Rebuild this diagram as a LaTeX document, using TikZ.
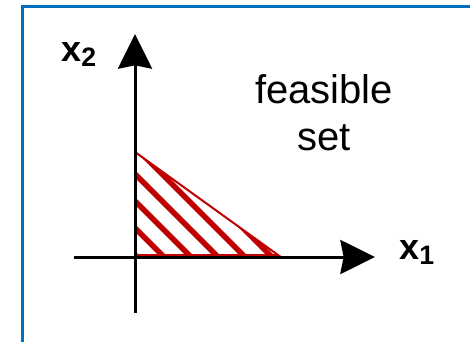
\documentclass[tikz,border=0pt]{standalone}
\usepackage{fontspec}
\setmainfont{Liberation Sans}
\usetikzlibrary{arrows.meta}
\definecolor{frameblue}{HTML}{0070C0}
\definecolor{setred}{HTML}{C00000}

\begin{document}
\begin{tikzpicture}[x=0.75pt, y=-0.75pt,
  axis/.style={line width=2.25pt, -{Stealth[length=26pt, width=25.5pt, inset=2.5pt]}},
  axlabel/.style={inner sep=0pt, anchor=base west, font=\fontsize{27}{32}\selectfont\bfseries}]
  \useasboundingbox (0,0) rectangle (470,342);

  % 枠
  \draw[frameblue, line width=2.25pt] (22,342) -- (22,7) -- (470,7);

  % 実行可能領域（斜線）
  \coordinate (o) at (135,255);
  \coordinate (top) at (135,152);
  \coordinate (right) at (278,255);
  \begin{scope}
    \clip (o) -- (top) -- (right) -- cycle;
    \foreach \c in {-15,12,...,120}
      \draw[setred, line width=4.2pt] (100,100+\c) -- (300,300+\c);
  \end{scope}
  \draw[setred, line width=1.5pt] (o) -- (top) -- (right) -- cycle;

  % 座標軸
  \coordinate (x1start) at (74,257);
  \coordinate (x1end) at (375,257);
  \coordinate (x2start) at (135,313);
  \coordinate (x2end) at (135,34);
  \draw[axis] (x1start) -- (x1end);
  \draw[axis] (x2start) -- (x2end);

  % ラベル
  \node[axlabel] (x1label) at (399,259) {x\raisebox{-3.75pt}{\fontsize{20}{24}\selectfont 1}};
  \node[axlabel] (x2label) at (61,62) {x\raisebox{-3.75pt}{\fontsize{20}{24}\selectfont 2}};
  \node[font=\fontsize{30}{35}\selectfont, align=center] (feasible) at (324,113) {feasible\\set};
\end{tikzpicture}
\end{document}
